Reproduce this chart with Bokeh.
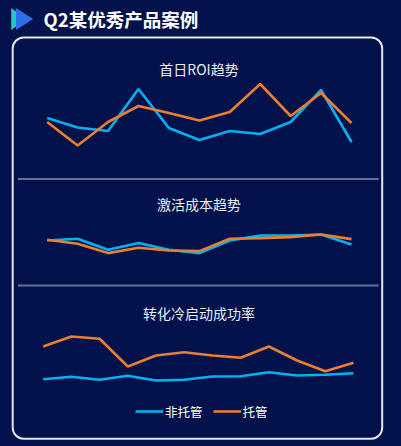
from bokeh.plotting import figure
from bokeh.models import Range1d, Label, BoxAnnotation, Legend, LegendItem
from bokeh.embed import file_html
from bokeh.resources import INLINE

# ---------------- data ----------------
periods_a = list(range(1, 12))          # panels 1 & 2
periods_b = list(range(1, 13))          # panel 3
series_names = ["非托管", "托管"]
panel_titles = ["首日ROI趋势", "激活成本趋势", "转化冷启动成功率"]
main_title = "Q2某优秀产品案例"

roi_unmanaged = [1.05, 0.86, 0.79, 1.63, 0.85, 0.61, 0.79, 0.73, 0.97, 1.61, 0.57]
roi_managed = [0.97, 0.50, 0.97, 1.29, 1.15, 1.00, 1.17, 1.73, 1.09, 1.55, 0.95]
cost_unmanaged = [20.0, 20.9, 15.4, 18.7, 15.4, 13.7, 20.0, 22.5, 22.5, 23.0, 18.0]
cost_managed = [20.4, 18.4, 13.7, 16.4, 15.0, 14.7, 20.9, 21.2, 21.7, 23.0, 20.7]
rate_unmanaged = [21.3, 23.7, 20.7, 24.7, 20.0, 20.7, 24.0, 24.3, 28.3, 25.0, 25.7, 27.3]
rate_managed = [54.0, 64.0, 61.7, 34.0, 45.0, 48.3, 45.0, 42.7, 54.0, 40.0, 29.3, 37.7]

# ---------------- styling ----------------
W, H = 401, 446
BG = "#03124a"
BLUE = "#00b2f0"
ORANGE = "#e97f2f"
FONT = "Noto Sans CJK SC"


def x_range_for(periods, first, last):
    step = (last - first) / (len(periods) - 1)
    s = periods[0] - first / step
    return Range1d(s, s + W / step)


def y_range_for(v_ref, y_ref, ppu):
    e = v_ref + y_ref / ppu
    return Range1d(e - H / ppu, e)


p = figure(width=W, height=H, output_backend="svg", toolbar_location=None,
           x_axis_type=None, y_axis_type=None,
           x_range=Range1d(0, W), y_range=Range1d(H, 0),
           min_border=0, background_fill_color=BG, border_fill_color=BG,
           outline_line_color=None)
p.grid.visible = False

p.extra_x_ranges = {
    "xa": x_range_for(periods_a, 46.7, 351.0),
    "xb": x_range_for(periods_b, 42.7, 353.0),
}
p.extra_y_ranges = {
    "roi": y_range_for(1.0, 120, 50),
    "cost": y_range_for(20.0, 240, 2),
    "rate": y_range_for(30.0, 370, 1),
}

# ---------------- decorations ----------------
# header icon
p.patch([10.7, 10.7, 26], [7.5, 29.5, 18.5], fill_color="#22c9c4", line_color=None)
p.patch([15.5, 15.5, 32.7], [7.5, 29.5, 18.5], fill_color="#2d6fe8", line_color=None)
p.add_layout(Label(x=43, y=18, text=main_title, text_color="white",
                   text_font=FONT, text_font_size="18.5px", text_font_style="bold",
                   text_baseline="middle", text_align="left"))

# rounded frame
p.add_layout(BoxAnnotation(left=12.2, right=381.7, top=37, bottom=438.2,
                           fill_alpha=0, line_color="#e6e8f0", line_alpha=1.0,
                           line_width=2, border_radius=11))
# separators
p.segment(x0=[17.5, 17.5], y0=[178.6, 285], x1=[378, 378], y1=[178.6, 285],
          line_color="#66719a", line_width=2)

# panel titles
for t, yy in zip(panel_titles, [68, 203, 312.7]):
    p.add_layout(Label(x=198.5, y=yy, text=t, text_color="#e8ecf4",
                       text_font=FONT, text_font_size="14px",
                       text_baseline="middle", text_align="center"))

# ---------------- data lines ----------------
lw = 2.6
r_b1 = p.line(periods_a, roi_unmanaged, x_range_name="xa", y_range_name="roi", line_color=BLUE, line_width=lw)
r_o1 = p.line(periods_a, roi_managed, x_range_name="xa", y_range_name="roi", line_color=ORANGE, line_width=lw)
p.line(periods_a, cost_unmanaged, x_range_name="xa", y_range_name="cost", line_color=BLUE, line_width=lw)
p.line(periods_a, cost_managed, x_range_name="xa", y_range_name="cost", line_color=ORANGE, line_width=lw)
p.line(periods_b, rate_unmanaged, x_range_name="xb", y_range_name="rate", line_color=BLUE, line_width=lw)
p.line(periods_b, rate_managed, x_range_name="xb", y_range_name="rate", line_color=ORANGE, line_width=lw)

legend = Legend(items=[LegendItem(label=series_names[0], renderers=[r_b1]),
                       LegendItem(label=series_names[1], renderers=[r_o1])],
                orientation="horizontal", location=(135, 25.5), margin=0, padding=0,
                spacing=10, glyph_width=28, glyph_height=14, label_standoff=2,
                label_text_color="white", label_text_font=FONT,
                label_text_font_size="12.5px", background_fill_alpha=0,
                border_line_color=None)
p.add_layout(legend, "center")

open("out.html", "w").write(file_html(p, INLINE).replace("<body>", '<body style="background:%s">' % BG))
